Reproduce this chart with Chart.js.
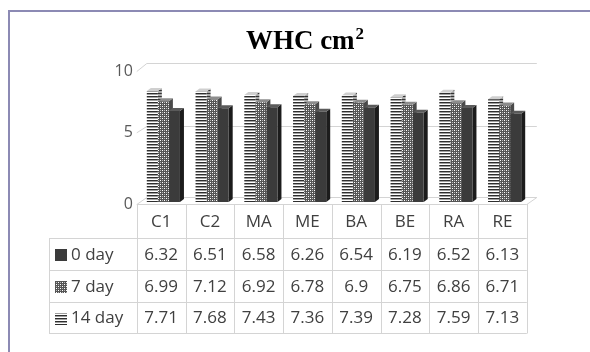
<!DOCTYPE html>
<html>
<head>
<meta charset="utf-8">
<script src="https://cdn.jsdelivr.net/npm/chart.js@4/dist/chart.umd.min.js"></script>
<style>
  html, body { margin: 0; padding: 0; background: #ffffff; }
  canvas { display: block; }
</style>
</head>
<body>
<canvas id="c" width="590" height="352"></canvas>
<script>
// Water holding capacity per treatment, measured at 0, 7 and 14 days
const categories = ['C1', 'C2', 'MA', 'ME', 'BA', 'BE', 'RA', 'RE'];
const day14 = [7.71, 7.68, 7.43, 7.36, 7.39, 7.28, 7.59, 7.13];
const day7  = [6.99, 7.12, 6.92, 6.78, 6.9, 6.75, 6.86, 6.71];
const day0  = [6.32, 6.51, 6.58, 6.26, 6.54, 6.19, 6.52, 6.13];
const seriesNames = ['14 day', '7 day', '0 day'];
const yTicks = [0, 5, 10];
const titleMain = 'WHC cm';
const titleSup = '2';

const FONT = '"Open Sans", "Liberation Sans", sans-serif';
const TEXT = '#404040';
const GRID = '#d4d4d4';

// fill patterns for the bars
function makePattern(w, h, draw) {
  const c = document.createElement('canvas');
  c.width = w; c.height = h;
  const g = c.getContext('2d');
  draw(g);
  return document.getElementById('c').getContext('2d').createPattern(c, 'repeat');
}
const stripes = makePattern(4, 3, g => {
  g.fillStyle = '#ffffff'; g.fillRect(0, 0, 4, 3);
  g.fillStyle = '#2e2e2e'; g.fillRect(0, 0, 4, 1);
  g.fillStyle = '#a0a0a0'; g.fillRect(0, 1, 4, 1);
});
const stripesSide = makePattern(4, 3, g => {
  g.fillStyle = '#a8a8a8'; g.fillRect(0, 0, 4, 3);
  g.fillStyle = '#333333'; g.fillRect(0, 0, 4, 1);
});
const checker = makePattern(4, 4, g => {
  g.fillStyle = '#555555'; g.fillRect(0, 0, 4, 4);
  g.fillStyle = '#ffffff'; g.fillRect(0, 0, 1, 1); g.fillRect(2, 2, 1, 1);
  g.fillStyle = '#b4b4b4'; g.fillRect(2, 0, 1, 1); g.fillRect(0, 2, 1, 1);
});
const solid = '#3b3b3b';

const fills = [stripes, checker, solid];
const faces = [
  { side: stripesSide, top: '#cfcfcf' },
  { side: '#4a4a4a', top: '#8c8c8c' },
  { side: '#1c1c1c', top: '#5a5a5a' }
];

// 3D geometry of the walls and bars
const BAR_DX = 4, BAR_DY = -3;
const WALL_DX = 10, WALL_DY = -7;
const TABLE_SHIFT = -2.2;

// soft perspective for the wall gridlines and tick labels
function persp(t, a) { return t * (1 + a) / (1 + a * t); }

function wallGeometry(chart) {
  const x = chart.scales.x, y = chart.scales.y;
  const band = (x.getPixelForValue(1) - x.getPixelForValue(0));
  const left = x.getPixelForValue(0) - band / 2 + TABLE_SHIFT;
  const right = left + band * categories.length;
  const floorFront = y.getPixelForValue(0) + 2;
  const h = y.getPixelForValue(0) - y.getPixelForValue(10);
  const frontY = v => floorFront + 0.5 - 133 * persp((y.getPixelForValue(0) - y.getPixelForValue(v)) / h, 0.17);
  const backY = v => floorFront + WALL_DY - 134 * persp((y.getPixelForValue(0) - y.getPixelForValue(v)) / h, 0.13);
  return { band, left, right, floorFront, frontY, backY };
}

const wallPlugin = {
  id: 'wall',
  beforeDraw(chart) {
    const ctx = chart.ctx;
    const g = wallGeometry(chart);
    ctx.save();
    ctx.fillStyle = '#ffffff';
    ctx.fillRect(0, 0, chart.width, chart.height);

    // outer frame
    ctx.strokeStyle = '#8c8ab4';
    ctx.lineWidth = 2;
    ctx.beginPath();
    ctx.moveTo(9, chart.height);
    ctx.lineTo(9, 11);
    ctx.lineTo(chart.width, 11);
    ctx.stroke();

    // title with superscript
    ctx.fillStyle = '#000000';
    ctx.textBaseline = 'alphabetic';
    const mainFont = 'bold 27px "Liberation Serif", "DejaVu Serif", serif';
    const supFont = 'bold 17px "Liberation Serif", "DejaVu Serif", serif';
    ctx.font = mainFont;
    const wMain = ctx.measureText(titleMain).width;
    ctx.font = supFont;
    const wSup = ctx.measureText(titleSup).width;
    let tx = 305 - (wMain + wSup + 1) / 2;
    ctx.font = mainFont;
    ctx.textAlign = 'left';
    ctx.fillText(titleMain, tx, 49);
    ctx.font = supFont;
    ctx.fillText(titleSup, tx + wMain + 1, 39);

    // back wall gridlines, floor and diagonal ticks
    ctx.strokeStyle = GRID;
    ctx.lineWidth = 1;
    yTicks.forEach(v => {
      const by = Math.round(g.backY(v)) + 0.5;
      const fy = g.frontY(v);
      ctx.beginPath();
      ctx.moveTo(g.left + WALL_DX, by);
      ctx.lineTo(g.right + WALL_DX, by);
      ctx.stroke();
      ctx.beginPath();
      ctx.moveTo(g.left, fy);
      ctx.lineTo(g.left + WALL_DX, by);
      ctx.stroke();
    });
    // floor edges
    ctx.beginPath();
    ctx.moveTo(g.right, g.floorFront + 0.5);
    ctx.lineTo(g.right + WALL_DX, Math.round(g.backY(0)) + 0.5);
    ctx.stroke();

    // y tick labels
    ctx.fillStyle = '#595959';
    ctx.font = '16px ' + FONT;
    ctx.textAlign = 'right';
    ctx.textBaseline = 'middle';
    yTicks.forEach(v => ctx.fillText(String(v), g.left - 4, g.frontY(v)));
    ctx.restore();
  },
  beforeDatasetsDraw(chart) {
    // side and top faces, drawn beneath the front faces
    const ctx = chart.ctx;
    ctx.save();
    chart.data.datasets.forEach((ds, di) => {
      const meta = chart.getDatasetMeta(di);
      meta.data.forEach(bar => {
        const p = bar.getProps(['x', 'y', 'base', 'width'], true);
        const l = p.x - p.width / 2, r = p.x + p.width / 2;
        ctx.fillStyle = faces[di].side;
        ctx.beginPath();
        ctx.moveTo(r, p.y);
        ctx.lineTo(r + BAR_DX, p.y + BAR_DY);
        ctx.lineTo(r + BAR_DX, p.base + BAR_DY);
        ctx.lineTo(r, p.base);
        ctx.closePath();
        ctx.fill();
        ctx.fillStyle = faces[di].top;
        ctx.beginPath();
        ctx.moveTo(l, p.y);
        ctx.lineTo(l + BAR_DX, p.y + BAR_DY);
        ctx.lineTo(r + BAR_DX, p.y + BAR_DY);
        ctx.lineTo(r, p.y);
        ctx.closePath();
        ctx.fill();
      });
    });
    ctx.restore();
  },
  afterDraw(chart) {
    // data table below the plot
    const ctx = chart.ctx;
    const g = wallGeometry(chart);
    const top = g.floorFront;
    const rowEdges = [top, 238, 270, 302, 333];
    const tableLeft = 49;
    ctx.save();
    ctx.strokeStyle = GRID;
    ctx.lineWidth = 1;
    // horizontal rules
    ctx.beginPath();
    ctx.moveTo(g.left, top + 0.5);
    ctx.lineTo(g.right, top + 0.5);
    for (let i = 1; i < rowEdges.length; i++) {
      ctx.moveTo(tableLeft, rowEdges[i] + 0.5);
      ctx.lineTo(g.right, rowEdges[i] + 0.5);
    }
    // vertical rules
    for (let c = 0; c <= categories.length; c++) {
      const x = Math.round(g.left + c * g.band) + 0.5;
      ctx.moveTo(x, top);
      ctx.lineTo(x, rowEdges[4] + 0.5);
    }
    ctx.moveTo(tableLeft + 0.5, rowEdges[1]);
    ctx.lineTo(tableLeft + 0.5, rowEdges[4] + 0.5);
    ctx.stroke();

    ctx.fillStyle = TEXT;
    ctx.font = '17px ' + FONT;
    ctx.textBaseline = 'middle';
    ctx.textAlign = 'center';
    categories.forEach((c, i) => {
      ctx.fillText(c, g.left + (i + 0.5) * g.band, (rowEdges[0] + rowEdges[1]) / 2 + 1);
    });

    // rows: 0 day, 7 day, 14 day
    const rows = [
      { name: seriesNames[2], values: day0, fill: fills[2] },
      { name: seriesNames[1], values: day7, fill: fills[1] },
      { name: seriesNames[0], values: day14, fill: fills[0] }
    ];
    rows.forEach((row, r) => {
      const cy = (rowEdges[r + 1] + rowEdges[r + 2]) / 2;
      ctx.fillStyle = row.fill;
      ctx.fillRect(55, Math.round(cy - 5), 12, 12);
      ctx.fillStyle = TEXT;
      ctx.textAlign = 'left';
      ctx.fillText(row.name, 71, cy + 1);
      ctx.textAlign = 'center';
      row.values.forEach((v, i) => {
        ctx.fillText(String(v), g.left + (i + 0.5) * g.band, cy + 1);
      });
    });
    ctx.restore();
  }
};

new Chart(document.getElementById('c'), {
  type: 'bar',
  data: {
    labels: categories,
    datasets: [
      { label: seriesNames[0], data: day14, backgroundColor: fills[0] },
      { label: seriesNames[1], data: day7, backgroundColor: fills[1] },
      { label: seriesNames[2], data: day0, backgroundColor: fills[2] }
    ]
  },
  options: {
    responsive: false,
    animation: false,
    devicePixelRatio: 1,
    layout: { padding: { left: 139, right: 61, top: 58, bottom: 150 } },
    datasets: { bar: { categoryPercentage: 0.68, barPercentage: 1.0, borderWidth: 0 } },
    plugins: { legend: { display: false }, title: { display: false }, tooltip: { enabled: false } },
    scales: {
      x: { display: false },
      y: { display: false, min: 0, max: 10 }
    }
  },
  plugins: [wallPlugin]
});
</script>
</body>
</html>
